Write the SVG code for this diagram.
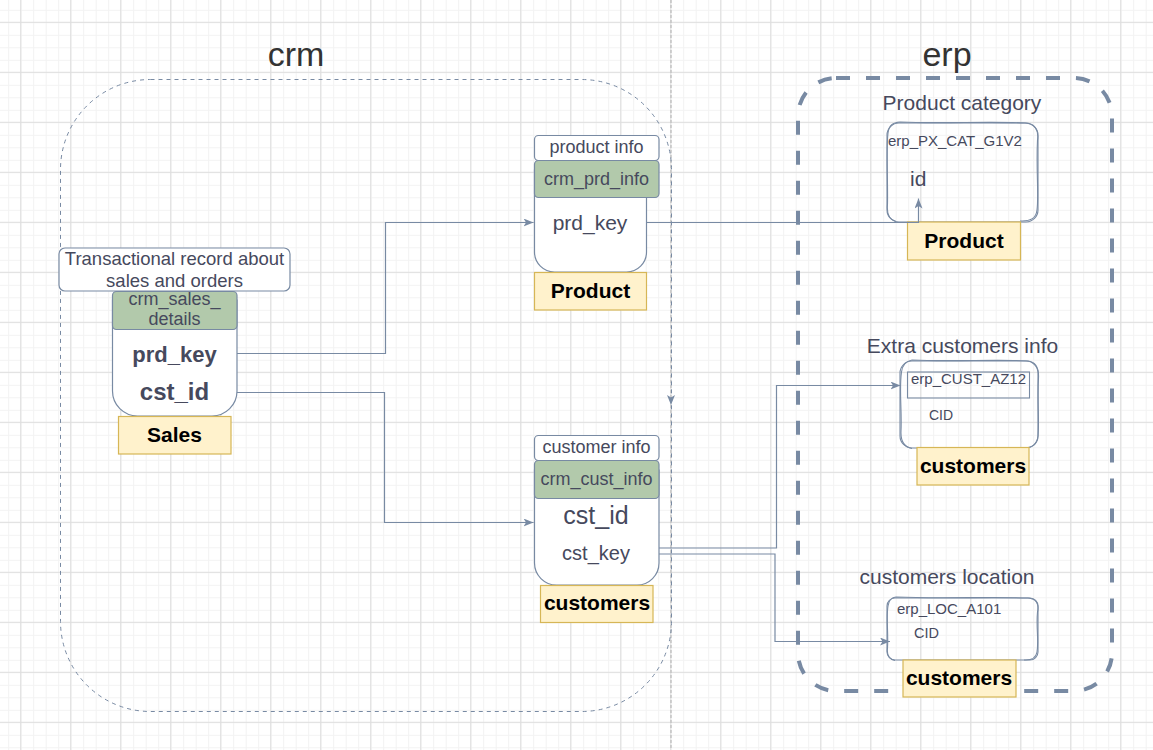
<svg xmlns="http://www.w3.org/2000/svg" width="1153" height="750" viewBox="0 0 1153 750">
<defs>
<pattern id="minor" patternUnits="userSpaceOnUse" x="8.2" y="9.8" width="12.5" height="12.5">
<path d="M0.5,0 V12.5 M0,0.5 H12.5" stroke="#f2f2f2" stroke-width="1" fill="none"/>
</pattern>
<pattern id="major" patternUnits="userSpaceOnUse" x="20.2" y="21.8" width="50" height="50">
<path d="M0.5,0 V50 M0,0.5 H50" stroke="#dedede" stroke-width="1" fill="none"/>
</pattern>
<marker id="arr" viewBox="0 0 10 8" refX="10" refY="4" markerWidth="10" markerHeight="8" markerUnits="userSpaceOnUse" orient="auto">
<path d="M0,0 L10,4 L0,8 L2.5,4 Z" fill="#788AA3"/>
</marker>
<style>
.edge{fill:none;stroke:#788AA3;stroke-width:1.2}
.box{fill:#ffffff;stroke:#788AA3;stroke-width:1.2}
.hdr{fill:#B2C9AB;stroke:#788AA3;stroke-width:1.2}
.lbl{fill:#FFF2CC;stroke:#D6B656;stroke-width:1.2}
.sk{fill:none;stroke:#788AA3;stroke-width:1.1}
text{font-family:"Liberation Sans",Arial,Helvetica,sans-serif;fill:#46495D}
.c{text-anchor:middle}
.b{font-weight:bold;fill:#000000}
.big{font-size:34px;fill:#333333;text-anchor:middle}
</style>
</defs>
<rect width="1153" height="750" fill="#ffffff"/>
<rect width="1153" height="750" fill="url(#minor)"/>
<rect width="1153" height="750" fill="url(#major)"/>

<g id="separator">
<line x1="671" y1="0" x2="671" y2="750" stroke="#bcbcbc" stroke-width="1.2" stroke-dasharray="3 2"/>
</g>

<g id="crm-container">
<rect x="60.5" y="79.5" width="611" height="632" rx="90" fill="none" stroke="#788AA3" stroke-width="1" stroke-dasharray="4 4"/>
<text class="big" x="296" y="66">crm</text>
</g>

<g id="erp-container">
<rect x="798" y="78" width="314" height="613" rx="38" fill="none" stroke="#788AA3" stroke-width="4" stroke-dasharray="14 16"/>
<text class="big" x="947" y="66">erp</text>
</g>

<g id="sales">
<rect class="box" x="59" y="248" width="231" height="43" rx="6"/>
<text class="c" x="174.5" y="265" font-size="18.5">Transactional record about</text>
<text class="c" x="174.5" y="286.5" font-size="18.5">sales and orders</text>
<path class="box" d="M112.5,300 V391 A25,25 0 0 0 137.5,416 H212 A25,25 0 0 0 237,391 V300 Z"/>
<rect class="hdr" x="112.5" y="291.5" width="124.5" height="38" rx="4"/>
<text class="c" x="174.5" y="305" font-size="18">crm_sales_</text>
<text class="c" x="174.5" y="325" font-size="18">details</text>
<text class="c" x="174.5" y="362" font-size="22" font-weight="bold">prd_key</text>
<text class="c" x="174.5" y="400" font-size="24" font-weight="bold">cst_id</text>
<rect class="lbl" x="118.5" y="416.5" width="112.5" height="37.5"/>
<text class="c b" x="174.5" y="442" font-size="21">Sales</text>
</g>

<g id="product">
<rect class="box" x="534.5" y="135.5" width="124.5" height="25" rx="4"/>
<text class="c" x="596.5" y="153" font-size="18">product info</text>
<path class="box" d="M534.5,170 V252 A20,20 0 0 0 554.5,272 H626.5 A20,20 0 0 0 646.5,252 V170 Z"/>
<rect class="hdr" x="534.5" y="160.5" width="124.5" height="37" rx="4"/>
<text class="c" x="596.5" y="185" font-size="18">crm_prd_info</text>
<text class="c" x="590" y="230" font-size="21">prd_key</text>
<rect class="lbl" x="534.5" y="272.5" width="112" height="37.5"/>
<text class="c b" x="590.5" y="297.5" font-size="21">Product</text>
</g>

<g id="customers">
<rect class="box" x="534.5" y="435.5" width="124.5" height="25" rx="4"/>
<text class="c" x="596.5" y="453" font-size="18">customer info</text>
<path class="box" d="M534.5,470 V563 A22,22 0 0 0 556.5,585 H637 A22,22 0 0 0 659,563 V470 Z"/>
<rect class="hdr" x="534.5" y="460.5" width="124.5" height="38" rx="4"/>
<text class="c" x="596.5" y="484.5" font-size="18">crm_cust_info</text>
<text class="c" x="596" y="523.5" font-size="25">cst_id</text>
<text class="c" x="596" y="559.5" font-size="20">cst_key</text>
<rect class="lbl" x="540.5" y="585.5" width="112.5" height="37"/>
<text class="c b" x="597" y="609.5" font-size="21">customers</text>
</g>

<g id="product-category">
<text class="c" x="962" y="109.5" font-size="21">Product category</text>
<rect class="sk" x="887" y="123" width="151" height="99" rx="12"/>
<path class="sk" d="M900,122 C940,124 990,121 1025,123 C1035,124 1039,130 1037.5,140 C1036,170 1039,195 1037,210 C1036,219 1030,221.5 1020,221 M896,221.5 C889,220 886.5,214 887.5,204 C888,180 886,150 888,133 C889,125 893,122.5 900,122"/>
<text x="888" y="146" font-size="15">erp_PX_CAT_G1V2</text>
<text x="910" y="186" font-size="21">id</text>
<rect class="lbl" x="907.5" y="222" width="113" height="38"/>
<text class="c b" x="964" y="247.5" font-size="21">Product</text>
</g>

<g id="extra-customers-info">
<text class="c" x="962.5" y="353" font-size="21">Extra customers info</text>
<rect class="sk" x="900" y="361" width="138" height="87" rx="12"/>
<path class="sk" d="M912,360 C950,362 1000,359 1028,361 C1036,362 1039,368 1038.5,378 C1037,400 1039.5,420 1038,436 C1037,445 1031,448.5 1022,448 M912,448.5 C904,447 900.5,441 901,431 C902,410 899,390 901.5,372 C902.5,364 906,361 912,360"/>
<rect x="907.5" y="372" width="122" height="26" fill="none" stroke="#788AA3" stroke-width="1.1"/>
<text x="911" y="384" font-size="15">erp_CUST_AZ12</text>
<text x="929" y="419.5" font-size="14">CID</text>
<rect class="lbl" x="917" y="447.5" width="112" height="37.5"/>
<text class="c b" x="973" y="472.5" font-size="21">customers</text>
</g>

<g id="customers-location">
<text class="c" x="947" y="584" font-size="21">customers location</text>
<rect class="sk" x="887" y="598" width="151" height="62" rx="8"/>
<path class="sk" d="M896,597 C940,599 990,596.5 1028,598 C1036,598.5 1039.5,604 1037.5,612 C1036,628 1039,640 1037,652 C1036,658 1032,660.5 1024,660 M895,660.5 C889,659 886.5,655 887.5,648 C888.5,632 886,618 888,606 C889,600 891,597.5 896,597"/>
<text x="897" y="613.5" font-size="15">erp_LOC_A101</text>
<text x="914" y="637.5" font-size="14.5">CID</text>
<rect class="lbl" x="903" y="660" width="113" height="37"/>
<text class="c b" x="959" y="685" font-size="21">customers</text>
</g>

<g id="connectors">
<path class="edge" d="M237,353.5 H385.5 V222.5 H533.5" marker-end="url(#arr)"/>
<path class="edge" d="M237,392.5 H384.5 V522.5 H533.5" marker-end="url(#arr)"/>
<path class="edge" d="M647,222.5 H918.5 V198.5" marker-end="url(#arr)"/>
<path class="edge" d="M659,548 H776.5 V385.5 H900.5" marker-end="url(#arr)"/>
<path class="edge" d="M659,554 H775 V641.5 H890" marker-end="url(#arr)"/>
<path class="edge" d="M671,395 V405" stroke-opacity="0" marker-end="url(#arr)"/>
</g>
</svg>
